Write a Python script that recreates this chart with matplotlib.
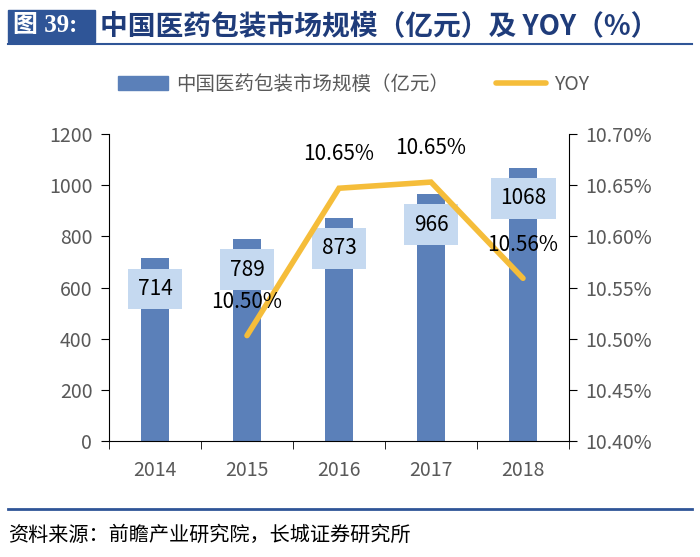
import matplotlib
matplotlib.use("Agg")
import matplotlib.pyplot as plt
from matplotlib.patches import Rectangle
from matplotlib.lines import Line2D

plt.rcParams["font.family"] = ["Noto Sans CJK SC", "DejaVu Sans"]

# 数据
years = ["2014", "2015", "2016", "2017", "2018"]
market_size = [714, 789, 873, 966, 1068]
yoy_years = ["2015", "2016", "2017", "2018"]
yoy = [10.503, 10.647, 10.653, 10.559]

bar_color = "#5b80b9"
line_color = "#f5bd3a"
box_color = "#c5d9f0"
text_gray = "#595959"
navy = "#1f3c7a"

fig = plt.figure(figsize=(7.0, 5.57), dpi=100)

ax = fig.add_axes([109 / 700, 1 - 441 / 557, 460 / 700, 307 / 557])
x = list(range(len(years)))
bars = ax.bar(x, market_size, width=0.3, color=bar_color, zorder=2)
ax.set_xlim(-0.5, len(years) - 0.5)
ax.set_ylim(0, 1200)
ax.set_yticks(range(0, 1201, 200))
ax.set_xticks(x)
ax.set_xticklabels(years)
ax.set_xticks([i - 0.5 for i in range(len(years) + 1)], minor=True)
ax.tick_params(axis="x", which="major", length=0, pad=14, labelsize=14, labelcolor=text_gray)
ax.tick_params(axis="x", which="minor", length=6, direction="out")
ax.tick_params(axis="y", length=6, direction="out", labelsize=14, labelcolor=text_gray, pad=6)
for s in ["top", "right"]:
    ax.spines[s].set_visible(False)

for xi, v in zip(x, market_size):
    ax.text(xi, v - 120, f"{v}", ha="center", va="center", fontsize=15, color="black",
            zorder=4, bbox=dict(boxstyle="square,pad=0.45", fc=box_color, ec="none"))

ax2 = ax.twinx()
xl = [years.index(y) for y in yoy_years]
ax2.plot(xl, yoy, color=line_color, lw=4, solid_capstyle="round", solid_joinstyle="miter", zorder=3)
ax2.set_ylim(10.40, 10.70)
ax2.set_yticks([10.40, 10.45, 10.50, 10.55, 10.60, 10.65, 10.70])
ax2.set_yticklabels([f"{t:.2f}%" for t in ax2.get_yticks()])
ax2.tick_params(axis="y", length=6, direction="out", labelsize=14, labelcolor=text_gray, pad=6)
for s in ["top", "left", "bottom"]:
    ax2.spines[s].set_visible(False)
for xi, v in zip(xl, yoy):
    ax2.text(xi, v + 0.033, f"{v:.2f}%", ha="center", va="center", fontsize=15, color="black", zorder=5)

# 图例
handles = [Rectangle((0, 0), 1, 1, color=bar_color),
           Line2D([0], [0], color=line_color, lw=4, solid_capstyle="round")]
fig.legend(handles, ["中国医药包装市场规模（亿元）", "YOY"], loc="center",
           bbox_to_anchor=(0.505, 1 - 84 / 557), ncol=2, frameon=False, fontsize=14,
           labelcolor=text_gray, handlelength=2.6, columnspacing=2.4, handletextpad=0.4)

# 标题
fig.patches.append(Rectangle((8 / 700, 1 - 42 / 557), 87 / 700, 32 / 557,
                             transform=fig.transFigure, color="#2f5597", zorder=1))
fig.text(13 / 700, 1 - 26 / 557, "图 39:", fontsize=18, fontweight="bold", color="white",
         va="center", ha="left", family=["Liberation Serif", "Noto Sans CJK SC"])
fig.text(100 / 700, 1 - 26 / 557, "中国医药包装市场规模（亿元）及 YOY（%）", fontsize=20,
         fontweight="bold", color=navy, va="center", ha="left")
fig.add_artist(Line2D([8 / 700, 692 / 700], [1 - 44 / 557] * 2, color="#2f5597", lw=1.5))

# 底部
fig.add_artist(Line2D([8 / 700, 692 / 700], [1 - 509 / 557] * 2, color="#2f5597", lw=2))
fig.text(8 / 700, 1 - 535 / 557, "资料来源：前瞻产业研究院，长城证券研究所", fontsize=14.5,
         color="black", va="center", ha="left", style="italic")

fig.savefig("out.png", dpi=100)
